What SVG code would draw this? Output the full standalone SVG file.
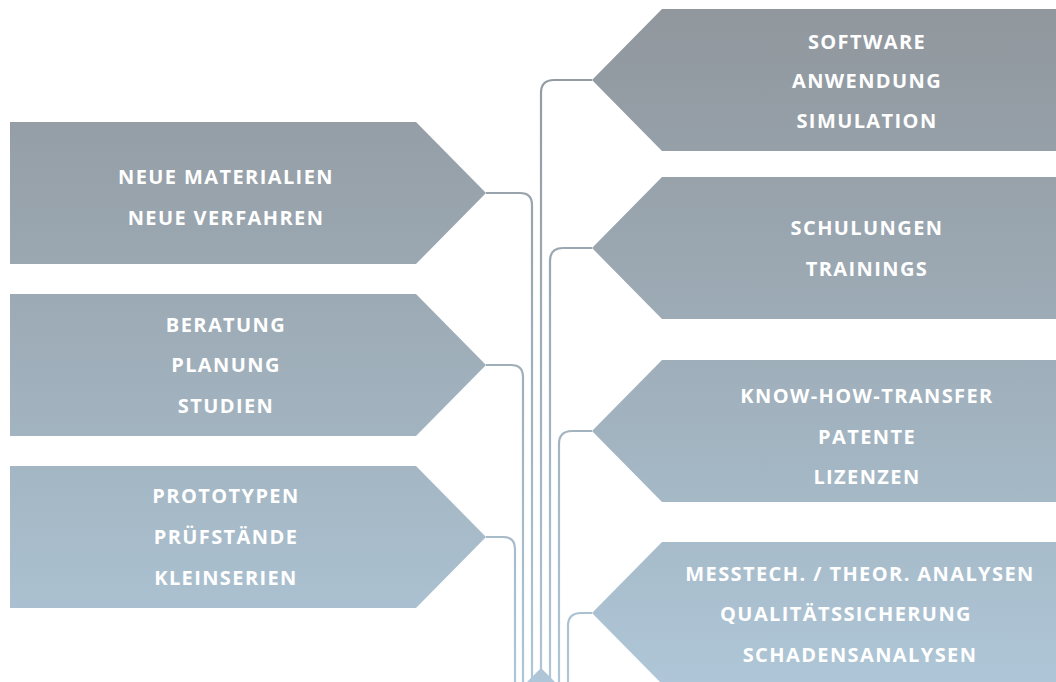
<svg xmlns="http://www.w3.org/2000/svg" width="1056" height="682" viewBox="0 0 1056 682">
  <defs>
    <!-- one vertical gradient spanning the whole canvas, shared by shapes and lines -->
    <linearGradient id="shade" gradientUnits="userSpaceOnUse" x1="0" y1="0" x2="0" y2="682">
      <stop offset="0" stop-color="#90969c"/>
      <stop offset="0.5" stop-color="#9eadb8"/>
      <stop offset="1" stop-color="#aec6d7"/>
    </linearGradient>
  </defs>
  <style>
    .box { fill: url(#shade); }
    .wire { fill: none; stroke: url(#shade); stroke-width: 2.2; }
    text { font-family: "Open Sans", "Liberation Sans", sans-serif; font-weight: bold; font-size: 20px; fill: #ffffff; text-anchor: middle; letter-spacing: 1.4px; }
  </style>
  <rect width="1056" height="682" fill="#ffffff"/>

  <g id="connectors">
    <path class="wire" d="M486,193 H520 Q532,193 532,205 V682"/>
    <path class="wire" d="M486,365 H511 Q523,365 523,377 V682"/>
    <path class="wire" d="M486,537 H503 Q515,537 515,549 V682"/>
    <path class="wire" d="M592,80 H554 Q541,80 541,93 V682"/>
    <path class="wire" d="M592,248 H563 Q550,248 550,261 V682"/>
    <path class="wire" d="M592,431 H572 Q559,431 559,444 V682"/>
    <path class="wire" d="M592,613 H581 Q568,613 568,626 V682"/>
    <polygon class="box" points="541,668 555,682 527,682"/>
  </g>

  <g id="neue-materialien">
    <polygon class="box" points="10,122 416,122 486,193 416,264 10,264"/>
    <text x="226" y="184">NEUE MATERIALIEN</text>
    <text x="226" y="225">NEUE VERFAHREN</text>
  </g>
  <g id="beratung">
    <polygon class="box" points="10,294 416,294 486,365 416,436 10,436"/>
    <text x="226" y="332">BERATUNG</text>
    <text x="226" y="372">PLANUNG</text>
    <text x="226" y="413">STUDIEN</text>
  </g>
  <g id="prototypen">
    <polygon class="box" points="10,466 416,466 486,537 416,608 10,608"/>
    <text x="226" y="503">PROTOTYPEN</text>
    <text x="226" y="544">PRÜFSTÄNDE</text>
    <text x="226" y="585">KLEINSERIEN</text>
  </g>

  <g id="software">
    <polygon class="box" points="1056,9 662,9 592,80 662,151 1056,151"/>
    <text x="867" y="49">SOFTWARE</text>
    <text x="867" y="88">ANWENDUNG</text>
    <text x="867" y="128">SIMULATION</text>
  </g>
  <g id="schulungen">
    <polygon class="box" points="1056,177 662,177 592,248 662,319 1056,319"/>
    <text x="867" y="235">SCHULUNGEN</text>
    <text x="867" y="276">TRAININGS</text>
  </g>
  <g id="know-how">
    <polygon class="box" points="1056,360 662,360 592,431 662,502 1056,502"/>
    <text x="867" y="403">KNOW-HOW-TRANSFER</text>
    <text x="867" y="444">PATENTE</text>
    <text x="867" y="484">LIZENZEN</text>
  </g>
  <g id="analysen">
    <polygon class="box" points="1056,542 662,542 592,613 662,684 1056,684"/>
    <text x="860" y="581">MESSTECH. / THEOR. ANALYSEN</text>
    <text x="846" y="621">QUALITÄTSSICHERUNG</text>
    <text x="860" y="662">SCHADENSANALYSEN</text>
  </g>
</svg>
